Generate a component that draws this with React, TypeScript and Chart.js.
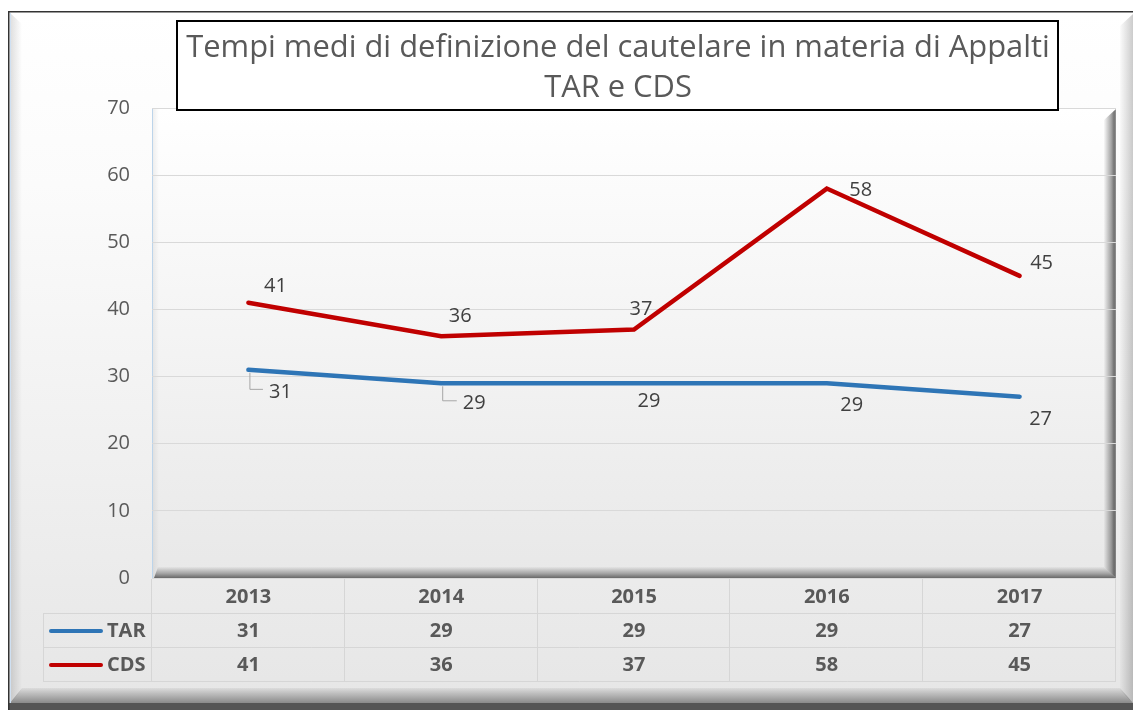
import React, { useEffect, useRef } from "react";
import { Chart, registerables } from "chart.js";

Chart.register(...registerables);

const categories = ["2013", "2014", "2015", "2016", "2017"];
const seriesNames = ["TAR", "CDS"];
const tarValues = [31, 29, 29, 29, 27];
const cdsValues = [41, 36, 37, 58, 45];
const yMin = 0;
const yMax = 70;
const yStep = 10;
const titleLines = [
  "Tempi medi di definizione del cautelare in materia di Appalti",
  "TAR e CDS",
];

// label placement (layout only)
const tarLabelOffsets = [[32, 22], [33, 20], [15, 18], [25, 22], [21, 23]];
const cdsLabelOffsets = [[27, -16], [19, -20], [7, -20], [34, 2], [22, -13]];
const tarLeaders = [true, true, false, false, false];

const FONT = '"Open Sans", "Noto Sans", sans-serif';
const BLUE = "#2e75b6";
const RED = "#c00000";

const decorPlugin = {
  id: "decor",
  beforeDraw(chart: any) {
    const ctx = chart.ctx;
    const ca = chart.chartArea;
    ctx.save();
    // outer background
    let g = ctx.createLinearGradient(0, 11, 0, 705);
    g.addColorStop(0, "#ffffff");
    g.addColorStop(0.25, "#fbfbfb");
    g.addColorStop(1, "#e6e6e6");
    ctx.fillStyle = g;
    ctx.fillRect(8, 11, 1125, 699);
    // left inner bevel
    g = ctx.createLinearGradient(10, 0, 22, 0);
    g.addColorStop(0, "rgba(0,0,0,0.13)");
    g.addColorStop(1, "rgba(0,0,0,0)");
    ctx.fillStyle = g;
    ctx.beginPath();
    ctx.moveTo(10, 13);
    ctx.lineTo(22, 24);
    ctx.lineTo(22, 690);
    ctx.lineTo(10, 703);
    ctx.closePath();
    ctx.fill();
    // right bevel
    g = ctx.createLinearGradient(1119, 0, 1133, 0);
    g.addColorStop(0, "rgba(0,0,0,0)");
    g.addColorStop(1, "rgba(0,0,0,0.2)");
    ctx.fillStyle = g;
    ctx.beginPath();
    ctx.moveTo(1133, 14);
    ctx.lineTo(1120, 26);
    ctx.lineTo(1120, 690);
    ctx.lineTo(1133, 703);
    ctx.closePath();
    ctx.fill();
    // bottom bevel
    g = ctx.createLinearGradient(0, 686, 0, 703);
    g.addColorStop(0, "rgba(0,0,0,0)");
    g.addColorStop(1, "rgba(0,0,0,0.4)");
    ctx.fillStyle = g;
    ctx.beginPath();
    ctx.moveTo(22, 688);
    ctx.lineTo(1120, 688);
    ctx.lineTo(1133, 703);
    ctx.lineTo(10, 703);
    ctx.closePath();
    ctx.fill();
    ctx.fillStyle = "#555555";
    ctx.fillRect(8, 703, 1125, 7);
    // outer dark lines
    ctx.fillStyle = "#333333";
    ctx.fillRect(8, 11, 1125, 1.5);
    ctx.fillRect(8, 11, 1.5, 699);
    ctx.fillStyle = "#cfe0f2";
    ctx.fillRect(10, 13, 1, 690);

    // plot background
    g = ctx.createLinearGradient(0, ca.top, 0, ca.bottom);
    g.addColorStop(0, "#ffffff");
    g.addColorStop(1, "#e8e8e8");
    ctx.fillStyle = g;
    ctx.fillRect(ca.left, ca.top, ca.right - ca.left, ca.bottom - ca.top);
    // left inner shadow
    g = ctx.createLinearGradient(ca.left, 0, ca.left + 7, 0);
    g.addColorStop(0, "rgba(0,0,0,0.07)");
    g.addColorStop(1, "rgba(0,0,0,0)");
    ctx.fillStyle = g;
    ctx.fillRect(ca.left, ca.top, 7, ca.bottom - ca.top);
    // right bevel
    g = ctx.createLinearGradient(ca.right - 12, 0, ca.right, 0);
    g.addColorStop(0, "rgba(0,0,0,0.02)");
    g.addColorStop(0.6, "rgba(0,0,0,0.35)");
    g.addColorStop(0.85, "rgba(0,0,0,0.55)");
    g.addColorStop(1, "rgba(0,0,0,0.4)");
    ctx.fillStyle = g;
    ctx.beginPath();
    ctx.moveTo(ca.right - 12, ca.top + 12);
    ctx.lineTo(ca.right, ca.top + 1);
    ctx.lineTo(ca.right, ca.bottom);
    ctx.lineTo(ca.right - 12, ca.bottom - 11);
    ctx.closePath();
    ctx.fill();
    // bottom bevel
    g = ctx.createLinearGradient(0, ca.bottom - 11, 0, ca.bottom);
    g.addColorStop(0, "rgba(0,0,0,0.02)");
    g.addColorStop(0.6, "rgba(0,0,0,0.3)");
    g.addColorStop(1, "rgba(0,0,0,0.55)");
    ctx.fillStyle = g;
    ctx.beginPath();
    ctx.moveTo(ca.left + 6, ca.bottom - 11);
    ctx.lineTo(ca.right - 12, ca.bottom - 11);
    ctx.lineTo(ca.right, ca.bottom);
    ctx.lineTo(ca.left + 2, ca.bottom);
    ctx.closePath();
    ctx.fill();
    // light blue edges
    ctx.fillStyle = "#bcd4ea";
    ctx.fillRect(ca.left, ca.top, 1, ca.bottom - ca.top);
    ctx.fillRect(ca.left, ca.top, ca.right - ca.left, 1);
    ctx.restore();
  },
  afterDatasetsDraw(chart: any) {
    const ctx = chart.ctx;
    ctx.save();
    ctx.font = `20px ${FONT}`;
    ctx.fillStyle = "#404040";
    ctx.textAlign = "center";
    ctx.textBaseline = "middle";
    const tarMeta = chart.getDatasetMeta(0);
    const cdsMeta = chart.getDatasetMeta(1);
    tarMeta.data.forEach((pt: any, i: number) => {
      const lx = pt.x + tarLabelOffsets[i][0];
      const ly = pt.y + tarLabelOffsets[i][1];
      const label = String(tarValues[i]);
      if (tarLeaders[i]) {
        const w = ctx.measureText(label).width;
        ctx.strokeStyle = "#a6a6a6";
        ctx.lineWidth = 1;
        ctx.beginPath();
        ctx.moveTo(pt.x + 1.5, pt.y + 3);
        ctx.lineTo(pt.x + 1.5, ly - 2.5);
        ctx.lineTo(lx - w / 2 - 6, ly - 2.5);
        ctx.stroke();
      }
      ctx.fillText(label, lx, ly);
    });
    cdsMeta.data.forEach((pt: any, i: number) => {
      ctx.fillText(String(cdsValues[i]), pt.x + cdsLabelOffsets[i][0], pt.y + cdsLabelOffsets[i][1]);
    });
    ctx.restore();
  },
  afterDraw(chart: any) {
    const ctx = chart.ctx;
    const ca = chart.chartArea;
    ctx.save();
    // title box
    ctx.fillStyle = "#ffffff";
    ctx.fillRect(177, 21, 881, 89);
    ctx.strokeStyle = "#000000";
    ctx.lineWidth = 2;
    ctx.strokeRect(177, 21, 881, 89);
    ctx.font = `26px ${FONT}`;
    const w0 = ctx.measureText(titleLines[0]).width;
    const size = (26 * 864) / w0;
    ctx.font = `${size.toFixed(2)}px ${FONT}`;
    ctx.fillStyle = "#595959";
    ctx.textAlign = "center";
    ctx.textBaseline = "middle";
    ctx.fillText(titleLines[0], 618, 48);
    ctx.fillText(titleLines[1], 618, 88);

    // data table
    const n = categories.length;
    const colW = (ca.right - ca.left) / n;
    const rowTops = [ca.bottom + 1, 613, 647, 681];
    ctx.strokeStyle = "#d6d6d6";
    ctx.lineWidth = 1;
    ctx.beginPath();
    for (let r = 1; r < rowTops.length; r++) {
      ctx.moveTo(43, rowTops[r] + 0.5);
      ctx.lineTo(ca.right, rowTops[r] + 0.5);
    }
    for (let c = 0; c <= n; c++) {
      const x = Math.round(ca.left + c * colW) - 0.5;
      ctx.moveTo(x, rowTops[0]);
      ctx.lineTo(x, rowTops[3]);
    }
    ctx.moveTo(43.5, rowTops[1]);
    ctx.lineTo(43.5, rowTops[3]);
    ctx.stroke();

    ctx.font = `bold 20px ${FONT}`;
    ctx.fillStyle = "#595959";
    ctx.textAlign = "center";
    const rows = [categories, tarValues.map(String), cdsValues.map(String)];
    rows.forEach((row, r) => {
      const cy = (rowTops[r] + rowTops[r + 1]) / 2 + 1;
      row.forEach((txt, c) => {
        ctx.fillText(txt, ca.left + (c + 0.5) * colW, cy);
      });
    });
    // legend keys
    const colors = [BLUE, RED];
    seriesNames.forEach((name, i) => {
      const cy = (rowTops[i + 1] + rowTops[i + 2]) / 2 + 1;
      ctx.strokeStyle = colors[i];
      ctx.lineWidth = 4;
      ctx.lineCap = "round";
      ctx.beginPath();
      ctx.moveTo(51, cy);
      ctx.lineTo(101, cy);
      ctx.stroke();
      ctx.textAlign = "left";
      ctx.fillStyle = "#595959";
      ctx.fillText(name, 107, cy);
    });
    ctx.restore();
  },
};

export default function App() {
  const ref = useRef<HTMLCanvasElement>(null);
  useEffect(() => {
    if (!ref.current) return;
    const chart = new Chart(ref.current, {
      type: "line",
      data: {
        labels: categories,
        datasets: [
          {
            label: seriesNames[0],
            data: tarValues,
            borderColor: BLUE,
            backgroundColor: BLUE,
            borderWidth: 4.5,
            pointRadius: 0,
            tension: 0,
            borderCapStyle: "round",
            borderJoinStyle: "round",
          },
          {
            label: seriesNames[1],
            data: cdsValues,
            borderColor: RED,
            backgroundColor: RED,
            borderWidth: 4.5,
            pointRadius: 0,
            tension: 0,
            borderCapStyle: "round",
            borderJoinStyle: "miter",
          },
        ],
      },
      options: {
        responsive: false,
        animation: false,
        devicePixelRatio: 1,
        layout: { padding: { top: 108, right: 17, bottom: 132, left: 0 } },
        plugins: {
          legend: { display: false },
          tooltip: { enabled: false },
          title: { display: false },
        },
        scales: {
          x: {
            type: "category",
            display: false,
            offset: true,
          },
          y: {
            min: yMin,
            max: yMax,
            afterFit(scale: any) {
              scale.width = 152;
            },
            ticks: {
              stepSize: yStep,
              padding: 22,
              color: "#595959",
              font: { family: FONT, size: 20 },
            },
            grid: {
              color: "#d9d9d9",
              lineWidth: 1,
              drawTicks: false,
            },
            border: { display: false },
          },
        },
      },
      plugins: [decorPlugin],
    });
    return () => chart.destroy();
  }, []);
  return (
    <div style={{ position: "fixed", left: 0, top: 0, width: 1133, height: 710 }}>
      <canvas ref={ref} width={1133} height={710} style={{ display: "block", width: 1133, height: 710 }} />
    </div>
  );
}
